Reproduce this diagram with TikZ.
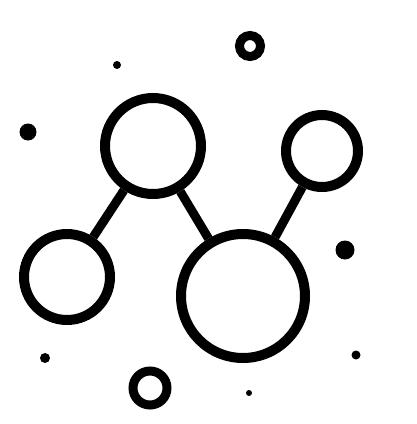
\documentclass[tikz,border=0pt]{standalone}
\begin{document}
\begin{tikzpicture}[x=1pt, y=-1pt,
        ring/.style={circle, draw=black, line width=10pt, inner sep=0pt},
        smallring/.style={circle, draw=black, line width=9pt, inner sep=0pt},
        dot/.style={circle, fill=black, inner sep=0pt},
        bond/.style={black, line width=9pt}]

        \useasboundingbox (0,0) rectangle (417,424);

        %-- Các vòng tròn lớn (nguyên tử) --
        \node[ring, minimum size=96pt]  (top)   at (153,146) {};
        \node[ring, minimum size=72pt]  (right) at (322,151) {};
        \node[ring, minimum size=86pt]  (left)  at (67,277)  {};
        \node[ring, minimum size=124pt] (big)   at (243,296) {};

        %-- Liên kết giữa các vòng --
        \draw[bond] (left) -- (top);
        \draw[bond] (top) -- (big);
        \draw[bond] (big) -- (right);

        %-- Vòng nhỏ --
        \node[smallring, minimum size=21pt] (ringA) at (250,46)  {};
        \node[smallring, minimum size=34pt] (ringB) at (150,388) {};

        %-- Các chấm đen --
        \node[dot, minimum size=8pt]  (d1) at (117,65)  {};
        \node[dot, minimum size=17pt] (d2) at (28,132)  {};
        \node[dot, minimum size=19pt] (d3) at (345,250) {};
        \node[dot, minimum size=10pt] (d4) at (45,358)  {};
        \node[dot, minimum size=9pt]  (d5) at (356,355) {};
        \node[dot, minimum size=6pt]  (d6) at (249,393) {};

    \end{tikzpicture}
\end{document}
